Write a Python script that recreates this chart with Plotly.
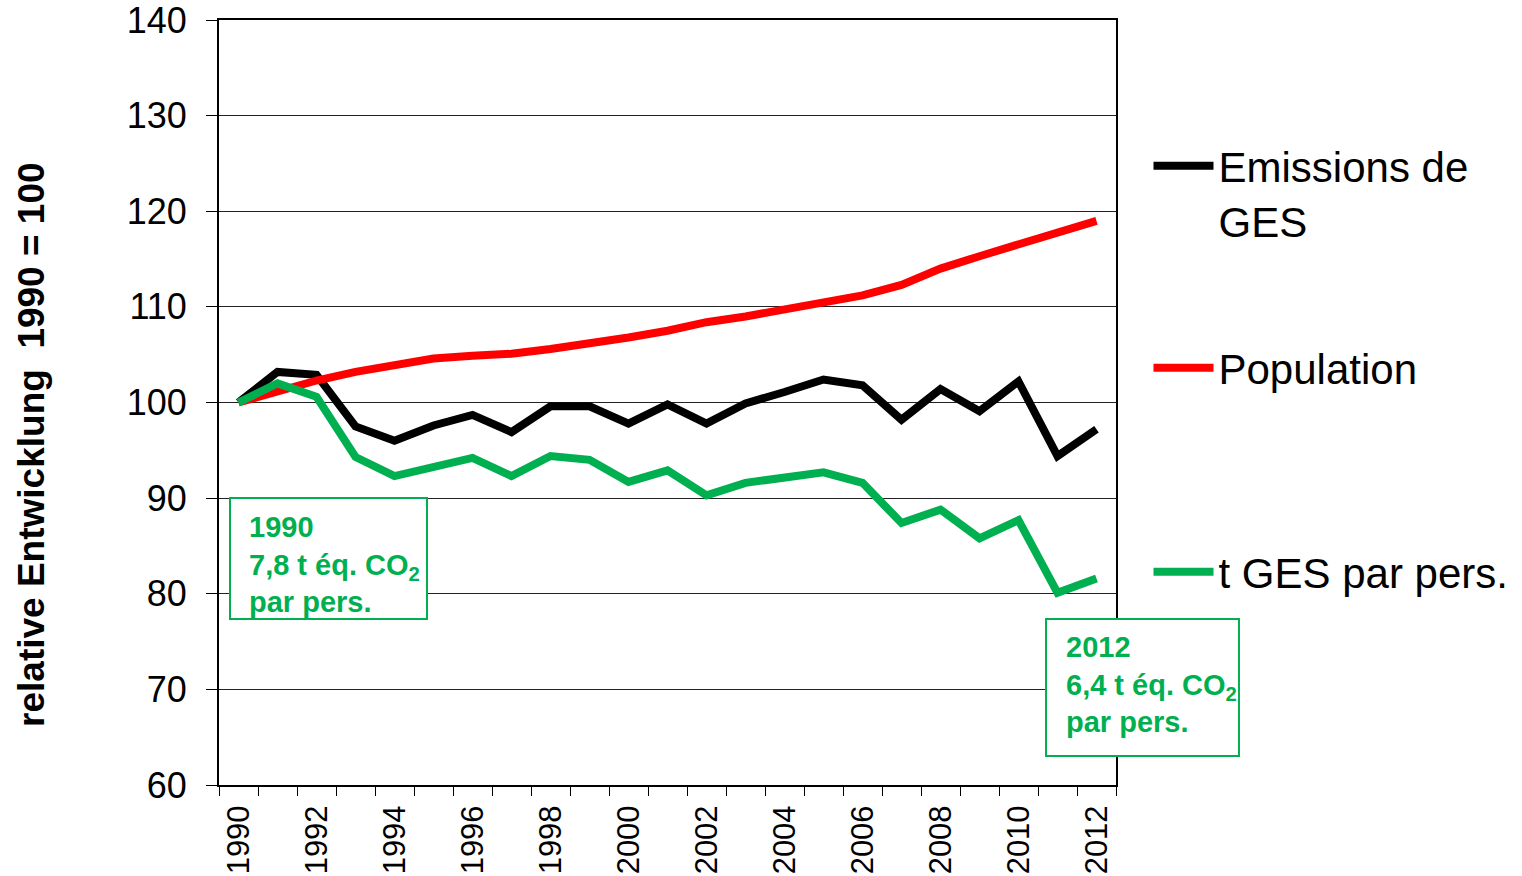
import plotly.graph_objects as go

years = list(range(1990, 2013))
emissions = [100, 103.2, 102.9, 97.5, 96.0, 97.6, 98.7, 96.9, 99.6, 99.6, 97.8,
             99.8, 97.8, 99.9, 101.1, 102.4, 101.8, 98.2, 101.4, 99.1, 102.2, 94.4, 97.2]
population = [100, 101.2, 102.3, 103.2, 104.0, 104.6, 104.9, 105.1, 105.6, 106.1, 106.8,
              107.5, 108.4, 109.0, 109.8, 110.5, 111.2, 112.3, 114.0, 115.3, 116.5, 117.8, 119.0]
per_person = [100, 102.0, 100.6, 94.3, 92.3, 93.3, 94.2, 92.3, 94.4, 94.0, 91.7,
              92.9, 90.3, 91.6, 92.1, 92.7, 91.6, 87.4, 88.8, 85.8, 87.7, 80.1, 81.6]
tick_years = list(range(1990, 2013, 2))
series_names = ["Emissions de<br>GES", "Population", "t GES par pers."]
colors = ["#000000", "#FF0000", "#00B050"]

FONT = "Liberation Sans, Arial, sans-serif"
GREEN = "#00B050"

fig = go.Figure()
for name, vals, col, lg in zip(series_names, [emissions, population, per_person], colors,
                               ["legend", "legend2", "legend3"]):
    fig.add_trace(go.Scatter(x=years, y=vals, mode="lines", name=name,
                             line=dict(color=col, width=8, shape="linear"),
                             legend=lg))

leg_common = dict(font=dict(family=FONT, size=42, color="black"), bgcolor="rgba(0,0,0,0)",
                  xref="container", yref="container",
                  xanchor="left", x=0.7546, itemwidth=60, valign="top")
fig.update_layout(
    width=1522, height=876,
    margin=dict(l=219, r=406, t=20, b=91, autoexpand=False),
    plot_bgcolor="white", paper_bgcolor="white",
    font=dict(family=FONT, color="black"),
    showlegend=True,
    legend=dict(**leg_common, yanchor="top", y=0.8493),
    legend2=dict(**leg_common, yanchor="middle", y=0.5799),
    legend3=dict(**leg_common, yanchor="middle", y=0.3470),
    xaxis=dict(range=[1989.5, 2012.5], tickvals=tick_years, ticktext=[str(y) for y in tick_years],
               tickangle=-90, ticks="", tickfont=dict(size=31, family=FONT),
               ticklabelstandoff=6, automargin=False, ticklabeloverflow="allow",
               showgrid=False, showline=True, linecolor="black", linewidth=2, mirror=True,
               zeroline=False,
               minor=dict(ticks="outside", ticklen=9, tickcolor="black", tickwidth=1,
                          tick0=1989.5, dtick=1, showgrid=False)),
    yaxis=dict(range=[60, 140], dtick=10, ticks="outside", ticklen=11, tickcolor="black",
               tickfont=dict(size=36, family=FONT), ticklabelstandoff=12,
               automargin=False, ticklabeloverflow="allow",
               showgrid=True, gridcolor="#222222", gridwidth=1,
               showline=True, linecolor="black", linewidth=2, mirror=True, zeroline=False),
)

# y-axis title
fig.add_annotation(text="<b>relative Entwicklung  1990 = 100</b>", xref="paper", yref="paper",
                   x=-0.2085, y=0.4458, textangle=-90, showarrow=False,
                   font=dict(size=37, family=FONT, color="black"),
                   xanchor="center", yanchor="middle")

# Boxes
fig.add_shape(type="rect", xref="paper", yref="paper", x0=0.01226, x1=0.2319, y0=0.2170, y1=0.3752,
              line=dict(color=GREEN, width=2), fillcolor="white", layer="above")
fig.add_shape(type="rect", xref="paper", yref="paper", x0=0.922, x1=1.1371, y0=0.0379, y1=0.2170,
              line=dict(color=GREEN, width=2), fillcolor="white", layer="above")
fig.add_annotation(text="<b>1990<br>7,8 t éq. CO<sub>2</sub><br>par pers.</b>",
                   xref="paper", yref="paper", x=0.0312, y=0.3610, xanchor="left", yanchor="top",
                   align="left", showarrow=False, font=dict(size=29, family=FONT, color=GREEN))
fig.add_annotation(text="<b>2012<br>6,4 t éq. CO<sub>2</sub><br>par pers.</b>",
                   xref="paper", yref="paper", x=0.942, y=0.2040, xanchor="left", yanchor="top",
                   align="left", showarrow=False, font=dict(size=29, family=FONT, color=GREEN))

fig.write_html("out.html", config={"displayModeBar": False},
               post_script="document.body.style.margin='0';")
